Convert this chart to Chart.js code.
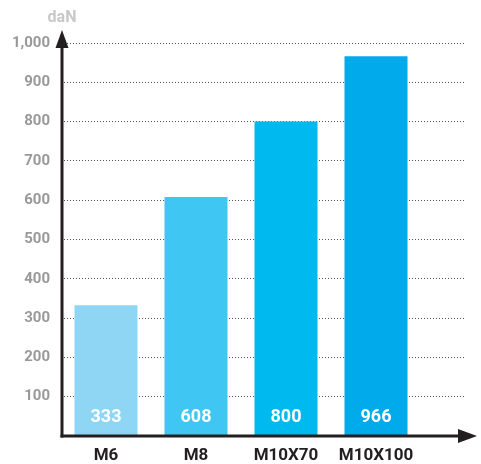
<!DOCTYPE html>
<html>
<head>
<meta charset="utf-8">
<script src="https://cdn.jsdelivr.net/npm/chart.js@4/dist/chart.umd.min.js"></script>
<style>
  html, body { margin: 0; padding: 0; background: #fff; }
  #wrap { width: 481px; height: 464px; }
</style>
</head>
<body>
<div id="wrap"><canvas id="chart"></canvas></div>
<script>
// Chart data
const categories = ['M6', 'M8', 'M10X70', 'M10X100'];
const values = [333, 608, 800, 966];
const barColors = ['#8fd6f5', '#40c6f2', '#00b9ef', '#00aaeb'];
const unitLabel = 'daN';

const FONT = "Roboto, 'DejaVu Sans Condensed', sans-serif";
const AXIS = '#231f20';

// Draws the arrowed axes, the unit label and the values inside the bars
const decorations = {
    id: 'decorations',
    afterDatasetsDraw(chart) {
        const { ctx, chartArea, scales } = chart;
        const x0 = chartArea.left + 1;
        const y0 = scales.y.getPixelForValue(0);

        ctx.save();
        ctx.strokeStyle = AXIS;
        ctx.fillStyle = AXIS;
        ctx.lineWidth = 3;

        // y axis
        ctx.beginPath();
        ctx.moveTo(x0, y0 + 1.5);
        ctx.lineTo(x0, 46);
        ctx.stroke();
        ctx.beginPath();
        ctx.moveTo(x0, 30);
        ctx.lineTo(x0 - 6.5, 48);
        ctx.lineTo(x0 + 6.5, 48);
        ctx.closePath();
        ctx.fill();

        // x axis
        ctx.beginPath();
        ctx.moveTo(x0 - 1.5, y0);
        ctx.lineTo(460, y0);
        ctx.stroke();
        ctx.beginPath();
        ctx.moveTo(477, y0);
        ctx.lineTo(458, y0 - 7);
        ctx.lineTo(458, y0 + 7);
        ctx.closePath();
        ctx.fill();

        // unit
        ctx.fillStyle = '#c8c8c8';
        ctx.font = 'bold 16px ' + FONT;
        ctx.textAlign = 'center';
        ctx.textBaseline = 'middle';
        ctx.fillText(unitLabel, x0, 18);

        // values in bars
        ctx.fillStyle = '#ffffff';
        ctx.font = 'bold 18px ' + FONT;
        chart.getDatasetMeta(0).data.forEach((bar, i) => {
            ctx.fillText(String(values[i]), bar.x, y0 - 19);
        });
        ctx.restore();
    }
};

const ctx = document.getElementById('chart').getContext('2d');
new Chart(ctx, {
    type: 'bar',
    data: {
        datasets: [{
            data: values.map((v, i) => ({ x: i, y: v })),
            backgroundColor: barColors,
            borderWidth: 0,
            categoryPercentage: 1,
            barPercentage: 0.7
        }]
    },
    options: {
        responsive: true,
        maintainAspectRatio: false,
        animation: false,
        layout: { padding: { top: 43, right: 15, left: 0, bottom: 0 } },
        plugins: {
            legend: { display: false },
            tooltip: { enabled: false }
        },
        scales: {
            x: {
                type: 'linear',
                min: -0.5,
                max: 4,
                offset: false,
                grid: { display: false },
                border: { display: false },
                afterBuildTicks: (scale) => {
                    scale.ticks = categories.map((c, i) => ({ value: i }));
                },
                afterFit: (scale) => { scale.height = 28; },
                ticks: {
                    autoSkip: false,
                    maxRotation: 0,
                    padding: 2,
                    color: AXIS,
                    font: { family: FONT, size: 17, weight: 'bold' },
                    callback: (v) => categories[v]
                }
            },
            y: {
                min: 0,
                max: 1000,
                afterFit: (scale) => { scale.width = 61; },
                border: { display: false, dash: [1, 2] },
                grid: {
                    color: '#555555',
                    lineWidth: 1,
                    drawTicks: false
                },
                ticks: {
                    stepSize: 100,
                    padding: 11,
                    color: '#999999',
                    font: { family: FONT, size: 15, weight: 'bold' },
                    callback: (v) => v === 0 ? '' : v.toLocaleString('en-US')
                }
            }
        }
    },
    plugins: [decorations]
});
</script>
</body>
</html>
